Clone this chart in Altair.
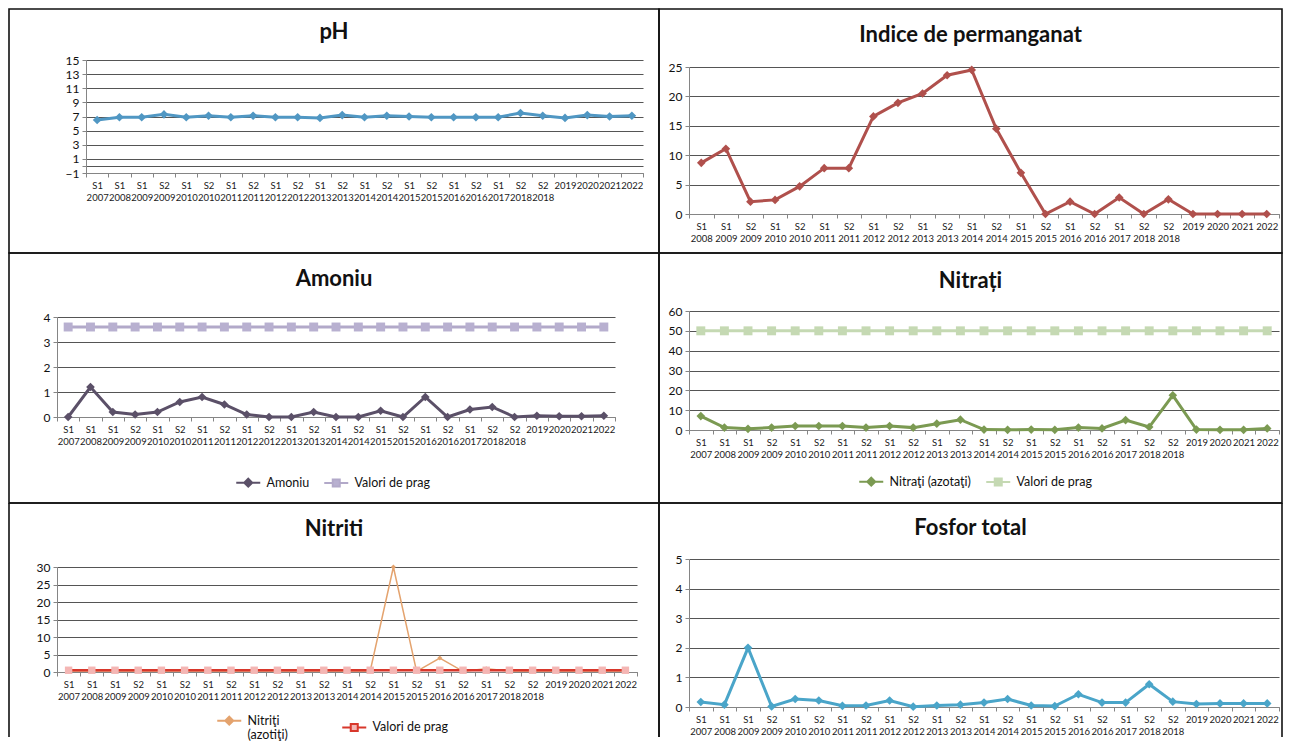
import json
import altair as alt
import pandas as pd

FONT = "Lato"
GRID = "#555555"
AXIS = "#858585"
BORDER = "#111111"

CATS25 = ["S1 2007", "S1 2008", "S1 2009", "S2 2009", "S1 2010", "S2 2010", "S1 2011",
          "S2 2011", "S1 2012", "S2 2012", "S1 2013", "S2 2013", "S1 2014", "S2 2014",
          "S1 2015", "S2 2015", "S1 2016", "S2 2016", "S1 2017", "S2 2018", "S2 2018",
          "2019", "2020", "2021", "2022"]
CATS24 = ["S1 2008", "S1 2009", "S2 2009", "S1 2010", "S2 2010", "S1 2011",
          "S2 2011", "S1 2012", "S2 2012", "S1 2013", "S2 2013", "S1 2014", "S2 2014",
          "S1 2015", "S2 2015", "S1 2016", "S2 2016", "S1 2017", "S2 2018", "S2 2018",
          "2019", "2020", "2021", "2022"]

PH_VALUES = [6.5, 6.9, 6.9, 7.3, 6.9, 7.1, 6.9, 7.1, 6.9, 6.9, 6.8, 7.2, 6.9, 7.1, 7.0,
             6.9, 6.9, 6.9, 6.9, 7.5, 7.1, 6.8, 7.2, 7.0, 7.1]
PERM_VALUES = [8.7, 11.1, 2.1, 2.4, 4.7, 7.8, 7.8, 16.6, 18.9, 20.5, 23.6, 24.5, 14.5, 7.0,
               0.0, 2.1, 0.0, 2.8, 0.0, 2.5, 0.0, 0.0, 0.0, 0.0]
AMONIU_VALUES = [0.0, 1.2, 0.2, 0.1, 0.2, 0.6, 0.8, 0.5, 0.1, 0.0, 0.0, 0.2, 0.0, 0.0, 0.25,
                 0.0, 0.8, 0.0, 0.3, 0.4, 0.0, 0.05, 0.03, 0.03, 0.05]
AMONIU_PRAG = 3.6
NITRATI_VALUES = [7.0, 1.2, 0.6, 1.2, 2.0, 2.0, 2.0, 1.2, 2.0, 1.2, 3.2, 5.2, 0.2, 0.1, 0.2,
                  0.1, 1.2, 0.8, 5.0, 1.5, 17.5, 0.2, 0.1, 0.1, 0.8]
NITRATI_PRAG = 50
NITRITI_VALUES = [0.3, 0.3, 0.3, 0.3, 0.3, 0.3, 0.3, 0.3, 0.3, 0.3, 0.3, 0.3, 0.3, 0.3, 30.0,
                  0.2, 4.0, 0.2, 0.9, 0.3, 0.3, 0.3, 0.3, 0.3, 0.3]
NITRITI_PRAG = 0.5
FOSFOR_VALUES = [0.17, 0.08, 2.0, 0.02, 0.27, 0.22, 0.04, 0.05, 0.22, 0.01, 0.05, 0.08, 0.15,
                 0.27, 0.05, 0.03, 0.43, 0.15, 0.15, 0.77, 0.18, 0.1, 0.12, 0.12, 0.12]

DIAMOND_L = "M-2.4,0L-0.8,0M0.8,0L2.4,0M0,-0.8L0.8,0L0,0.8L-0.8,0Z"
SQUARE_L = "M-2.4,0L-0.7,0M0.7,0L2.4,0M-0.7,-0.7L0.7,-0.7L0.7,0.7L-0.7,0.7Z"


def xaxis(labels, off):
    arr = json.dumps(labels, ensure_ascii=False)
    expr = ("isValid(" + arr + "[datum.value]) ? split(" + arr + "[datum.value], ' ') : ''")
    return alt.Axis(title=None, labelExpr=expr, offset=off,
                    labelAngle=0, labelOverlap=False, labelFont=FONT, labelFontSize=9.5,
                    labelColor="#1a1a1a", labelPadding=3, labelLineHeight=12,
                    domainColor=AXIS, tickColor=AXIS, tickSize=4, tickBand="extent",
                    grid=False)


def yaxis(values, off, hide=None):
    expr = "datum.label" if hide is None else f"datum.value == {hide} ? '' : datum.label"
    return alt.Axis(title=None, values=values, grid=True, gridColor=GRID, gridWidth=1.2,
                    offset=off, labelExpr=expr,
                    labelFont=FONT, labelFontSize=12, labelColor="#111111", labelPadding=3,
                    domainColor=AXIS, tickColor=AXIS, tickSize=4)


def panel(title, title_off, pw, ph, x0, y0, w, h, labels, series, ydom, yvals,
          legend=None, closed=True, hide=None):
    n = len(labels)
    xenc = alt.X("i:O", scale=alt.Scale(type="band", domain=list(range(n)), range=[x0, x0 + w],
                                         paddingInner=0, paddingOuter=0),
                 axis=xaxis(labels, -(ph - y0 - h)))
    yenc = alt.Y("v:Q", scale=alt.Scale(domain=ydom, range=[y0 + h, y0], nice=False, zero=False),
                 axis=yaxis(yvals, -x0, hide))
    one = pd.DataFrame({"k": [0]})
    layers = []
    if closed:
        layers.append(alt.Chart(one).mark_rect(fillOpacity=0, stroke=BORDER, strokeWidth=1.6).encode(
            x=alt.value(0), x2=alt.value(pw), y=alt.value(0), y2=alt.value(ph)))
    else:
        rule = alt.Chart(one).mark_rule(color=BORDER, strokeWidth=1.6)
        layers += [
            rule.encode(x=alt.value(0), y=alt.value(0), y2=alt.value(ph)),
            rule.encode(x=alt.value(pw), y=alt.value(0), y2=alt.value(ph)),
            rule.encode(x=alt.value(0), x2=alt.value(pw), y=alt.value(0)),
        ]
    for s in series:
        df = pd.DataFrame({"i": list(range(n)), "v": s["values"]})
        base = alt.Chart(df).encode(x=xenc, y=yenc)
        layers.append(base.mark_line(color=s["color"], strokeWidth=s["lw"]))
        layers.append(base.mark_point(shape=s["shape"], filled=True, size=s["size"],
                                      color=s["pcolor"], opacity=1))
    if legend:
        names = [s["label"] for s in series]
        lg = alt.Legend(orient="none", legendX=legend["x"], legendY=legend["y"],
                        direction="horizontal", title=None, labelFont=FONT, labelFontSize=12.5,
                        labelColor="#111111", symbolSize=100, symbolStrokeWidth=2,
                        labelOffset=12, columnPadding=legend["cp"],
                        labelExpr="split(datum.label, '|')")
        ldf = pd.DataFrame({"s": names})
        layers.append(alt.Chart(ldf).transform_filter("false").mark_point(
            filled=True, strokeWidth=2, opacity=1).encode(
            fill=alt.Fill("s:N", scale=alt.Scale(domain=names, range=[s["pcolor"] for s in series]), legend=lg),
            stroke=alt.Stroke("s:N", scale=alt.Scale(domain=names, range=[s["color"] for s in series]), legend=lg),
            shape=alt.Shape("s:N", scale=alt.Scale(domain=names, range=[s["lpath"] for s in series]), legend=lg),
        ))
    return alt.layer(*layers).properties(
        width=pw, height=ph,
        title=alt.TitleParams(text=title, anchor="middle", frame="group", offset=title_off,
                              baseline="middle",
                              font=FONT, fontSize=22, fontWeight="bold", color="#111111"))


def const(v, n):
    return [v for _ in range(n)]


p_ph = panel("pH", -46, 650, 244, 77, 51, 557, 113, CATS25,
             [dict(values=PH_VALUES, color="#5097c3", pcolor="#5097c3", lw=3, shape="diamond", size=75)],
             [-1, 15], [-1, 0, 1, 3, 5, 7, 9, 11, 13, 15], hide=0)

p_perm = panel("Indice de permanganat", -49, 623, 244, 30, 58, 590, 147, CATS24,
               [dict(values=PERM_VALUES, color="#b0504c", pcolor="#b0504c", lw=3, shape="diamond", size=75)],
               [0, 25], [0, 5, 10, 15, 20, 25])

p_am = panel("Amoniu", -49, 650, 250, 48, 64, 558, 100, CATS25,
             [dict(label="Amoniu", values=AMONIU_VALUES, color="#5b5068", pcolor="#5b5068", lw=3,
                   shape="diamond", size=75, lpath=DIAMOND_L),
              dict(label="Valori de prag", values=const(AMONIU_PRAG, 25), color="#b2a9c9", pcolor="#b8b0d0",
                   lw=3, shape="square", size=80, lpath=SQUARE_L)],
             [0, 4], [0, 1, 2, 3, 4], legend=dict(x=233, y=223, cp=10))

p_ni = panel("Nitrați", -51, 623, 250, 30, 58, 590, 119, CATS25,
             [dict(label="Nitraţi (azotaţi)", values=NITRATI_VALUES, color="#7b9a52", pcolor="#7b9a52", lw=3,
                   shape="diamond", size=75, lpath=DIAMOND_L),
              dict(label="Valori de prag", values=const(NITRATI_PRAG, 25), color="#c5d9b3", pcolor="#c5d9b3",
                   lw=3, shape="square", size=80, lpath=SQUARE_L)],
             [0, 60], [0, 10, 20, 30, 40, 50, 60], legend=dict(x=206, y=222, cp=11))

p_nt = panel("Nitriti", -49, 650, 234, 48, 64, 580, 105, CATS25,
             [dict(label="Nitriţi|(azotiţi)", values=NITRITI_VALUES, color="#e4a36e", pcolor="#e4a36e", lw=1.5,
                   shape="diamond", size=25, lpath=DIAMOND_L),
              dict(label="Valori de prag", values=const(NITRITI_PRAG, 25), color="#d8372b", pcolor="#f4b6b4",
                   lw=2.5, shape="square", size=55, lpath=SQUARE_L)],
             [0, 30], [0, 5, 10, 15, 20, 25, 30], legend=dict(x=214, y=211, cp=50), closed=False)

p_fo = panel("Fosfor total", -48, 623, 234, 30, 56, 590, 148, CATS25,
             [dict(values=FOSFOR_VALUES, color="#4aa5c9", pcolor="#4aa5c9", lw=3, shape="diamond", size=75)],
             [0, 5], [0, 1, 2, 3, 4, 5], closed=False)

chart = alt.concat(p_ph, p_perm, p_am, p_ni, p_nt, p_fo, columns=2, spacing=0,
                   bounds="flush").resolve_scale(
    x="independent", y="independent", fill="independent", stroke="independent",
    shape="independent"
).properties(padding=0, background="white").configure_view(stroke=None)

chart.save("out.html", embed_options={"renderer": "svg", "actions": False})
